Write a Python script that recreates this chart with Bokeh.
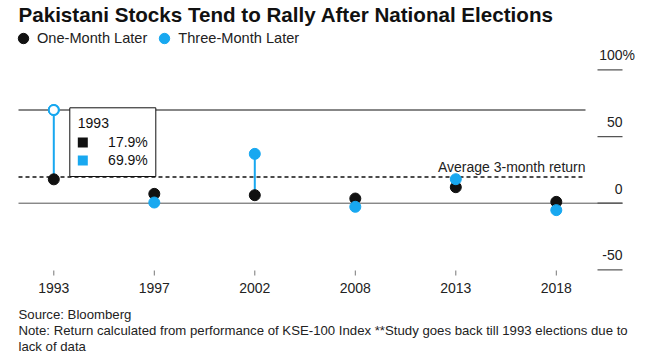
from bokeh.plotting import figure
from bokeh.models import Label, Legend, LegendItem, BoxAnnotation, Range1d
from bokeh.embed import file_html
from bokeh.resources import INLINE

# ---- data ----
years = ["1993", "1997", "2002", "2008", "2013", "2018"]
one_month = [17.9, 7.0, 6.0, 3.5, 12.0, 1.0]
three_month = [69.9, 0.5, 37.0, -2.7, 18.0, -5.2]
y_ticks = [-50, 0, 50, 100]
y_tick_labels = ["-50", "0", "50", "100%"]
hover_index = 0

# ---- style / layout ----
BLACK = "#111111"
BLUE = "#18A8F0"
TXT = "#222222"
FONT = "Liberation Sans"
W, H = 647, 355
PX_PER_CAT = 100.5      # horizontal scale
FIRST_CAT_PX = 53.3     # pixel position of first category
PX_PER_UNIT = 200 / 150 # vertical scale
ZERO_PX = 202.7         # pixel position of y = 0

X0 = -FIRST_CAT_PX / PX_PER_CAT
X1 = X0 + W / PX_PER_CAT
Y1 = ZERO_PX / PX_PER_UNIT
Y0 = Y1 - H / PX_PER_UNIT


def px2x(px):
    return X0 + px / PX_PER_CAT


def px2y(py):
    return Y1 - py / PX_PER_UNIT


PLOT_LEFT, LINE_END, RULE_END, TICK_START = px2x(18), px2x(585), px2x(622), px2x(597)

idx = list(range(len(years)))
avg3 = sum(three_month) / len(three_month)
y_min = min(y_ticks)

p = figure(width=W, height=H, x_range=Range1d(X0, X1), y_range=Range1d(Y0, Y1),
           output_backend="svg", toolbar_location=None,
           min_border=0, x_axis_location=None, y_axis_location=None)
p.grid.visible = False
p.outline_line_color = None
p.background_fill_color = "white"

# x axis (ticks + labels)
p.segment(x0=idx, x1=idx, y0=[px2y(270)] * len(idx), y1=[px2y(275)] * len(idx),
          line_color="#777777", line_width=1)
p.text(x=idx, y=[y_min] * len(idx), text=years, y_offset=18,
       text_align="center", text_baseline="middle",
       text_font_size="14px", text_font={"value": FONT}, text_color=TXT)

# zero rule and right-side y ticks
p.segment(x0=[PLOT_LEFT], y0=[0], x1=[RULE_END], y1=[0], line_color="#555555", line_width=1)
p.segment(x0=[TICK_START] * len(y_ticks), x1=[RULE_END] * len(y_ticks),
          y0=y_ticks, y1=y_ticks, line_color="#555555", line_width=1.2)
p.text(x=[RULE_END] * len(y_ticks), y=y_ticks, text=y_tick_labels,
       x_offset=[12.5 if "%" in t else 0 for t in y_tick_labels], y_offset=-14.5,
       text_align="right", text_baseline="middle",
       text_font_size="14px", text_font={"value": FONT}, text_color=TXT)

# average line
p.line(x=[PLOT_LEFT, LINE_END], y=[avg3, avg3], line_color=BLACK, line_width=1.5, line_dash="4 3")
p.text(x=[LINE_END], y=[avg3], text=["Average 3-month return"], y_offset=-10,
       text_align="right", text_baseline="middle",
       text_font_size="14px", text_font={"value": FONT}, text_color=TXT)

# hover crosshair line
hy = three_month[hover_index]
p.line(x=[PLOT_LEFT, LINE_END], y=[hy, hy], line_color=BLACK, line_width=1.2)

# stems and dots
p.segment(x0=idx, y0=one_month, x1=idx, y1=three_month, line_color=BLUE, line_width=2)
r_black = p.scatter(x=idx, y=one_month, size=11, fill_color=BLACK, line_color=BLACK)
r_blue = p.scatter(x=idx, y=three_month, size=11, fill_color=BLUE, line_color=BLUE)
p.scatter(x=[idx[hover_index]], y=[hy], size=10, fill_color="white", line_color=BLUE, line_width=2)

# tooltip
hx = idx[hover_index]
box = BoxAnnotation(left=hx + 16 / PX_PER_CAT, right=hx + 102 / PX_PER_CAT,
                    top=hy + 2.2 / PX_PER_UNIT, bottom=hy - 66.5 / PX_PER_UNIT,
                    fill_color="white", fill_alpha=1, line_color=BLACK, line_width=1, line_alpha=1)
p.add_layout(box)
p.text(x=[hx], y=[hy], text=[years[hover_index]], x_offset=24, y_offset=12.8,
       text_align="left", text_baseline="middle", text_font_size="14px",
       text_font={"value": FONT}, text_color=BLACK, level="overlay")
p.text(x=[hx, hx], y=[hy, hy],
       text=[f"{one_month[hover_index]:.1f}%", f"{three_month[hover_index]:.1f}%"],
       x_offset=94, y_offset=[32.2, 49.8],
       text_align="right", text_baseline="middle", text_font_size="14px",
       text_font={"value": FONT}, text_color=BLACK, level="overlay")
p.scatter(x=[hx + 29 / PX_PER_CAT] * 2, y=[hy - 32.5 / PX_PER_UNIT, hy - 50.5 / PX_PER_UNIT],
          marker="square", size=10, fill_color=[BLACK, BLUE], line_color=None, level="overlay")

# legend
legend = Legend(items=[LegendItem(label="One-Month Later", renderers=[r_black]),
                       LegendItem(label="Three-Month Later", renderers=[r_blue])],
                location=(10, H - 51), orientation="horizontal",
                glyph_width=26, glyph_height=26, label_standoff=1, spacing=4,
                padding=0, margin=0, border_line_color=None, background_fill_alpha=0,
                label_text_font_size="14.6px", label_text_font=FONT, label_text_color=TXT)
p.add_layout(legend)

# title and footnotes
p.add_layout(Label(x=18, y=H - 14, x_units="screen", y_units="screen",
                   text="Pakistani Stocks Tend to Rally After National Elections",
                   text_font_size="20.6px", text_font=FONT, text_font_style="bold",
                   text_color=BLACK, text_baseline="middle"))
foot = ["Source: Bloomberg",
        "Note: Return calculated from performance of KSE-100 Index **Study goes back till 1993 elections due to",
        "lack of data"]
for i, t in enumerate(foot):
    p.add_layout(Label(x=18, y=H - 314 - 16 * i, x_units="screen", y_units="screen", text=t,
                       text_font_size="13.2px", text_font=FONT, text_color=TXT,
                       text_baseline="middle"))

open("out.html", "w").write(file_html(p, INLINE))
